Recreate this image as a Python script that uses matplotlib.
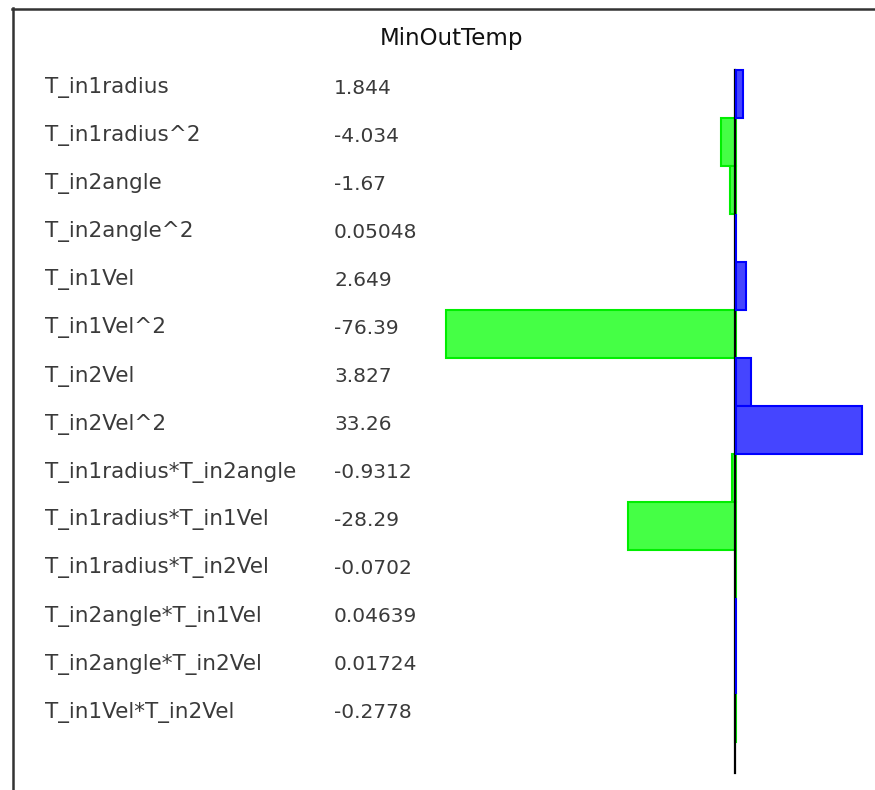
import numpy as np
import matplotlib
matplotlib.use("Agg")
import matplotlib.pyplot as plt
import matplotlib.transforms as mtransforms
from matplotlib.lines import Line2D

# coefficient table for MinOutTemp
terms = ["T_in1radius", "T_in1radius^2", "T_in2angle", "T_in2angle^2",
         "T_in1Vel", "T_in1Vel^2", "T_in2Vel", "T_in2Vel^2",
         "T_in1radius*T_in2angle", "T_in1radius*T_in1Vel",
         "T_in1radius*T_in2Vel", "T_in2angle*T_in1Vel",
         "T_in2angle*T_in2Vel", "T_in1Vel*T_in2Vel"]
value_labels = ["1.844", "-4.034", "-1.67", "0.05048", "2.649", "-76.39",
                "3.827", "33.26", "-0.9312", "-28.29", "-0.0702",
                "0.04639", "0.01724", "-0.2778"]
coefs = np.array([float(v) for v in value_labels])

W, H = 875, 790
fig = plt.figure(figsize=(W / 100, H / 100), dpi=100)
fig.patch.set_facecolor("white")
ax = fig.add_axes([0, 0, 1, 1])
ax.set_axis_off()

# scale: zero at x~736px, ~3.8 px per unit; rows 48px apart starting at 94px
px_per_unit = 3.8
x0 = 736
ax.set_xlim(-x0 / px_per_unit, (W - x0) / px_per_unit)
ax.set_ylim((H - 94) / 48, -94 / 48)

rows = np.arange(len(terms))
pos = coefs > 0
# negative bars sit under the zero line, positive ones on top of it
ax.barh(rows[~pos], coefs[~pos], height=1.0, color="#45ff45", edgecolor="#00ee00",
        linewidth=1.5, zorder=2)
ax.barh(rows[pos], coefs[pos], height=1.0, color="#4545ff", edgecolor="#0000ff",
        linewidth=1.5, zorder=4)

zero_tr = ax.transData + mtransforms.ScaledTranslation(-1.0 / 100, 0, fig.dpi_scale_trans)
ax.plot([0, 0], [-0.5, 14.15], color="black", linewidth=1.6, transform=zero_tr, zorder=3)

txt_color = "#3a3a3a"
lab_tr = mtransforms.blended_transform_factory(fig.transFigure, ax.transData)
lab_tr = lab_tr + mtransforms.ScaledTranslation(0, 6 / 100, fig.dpi_scale_trans)
for i, (t, v) in enumerate(zip(terms, value_labels)):
    ax.text(45 / W, i, t, transform=lab_tr, ha="left", va="center",
            fontsize=15.5, color=txt_color, family="DejaVu Sans")
    ax.text(334 / W, i, v, transform=lab_tr, ha="left", va="center",
            fontsize=14.5, color=txt_color, family="DejaVu Sans")

fig.text(452 / W, 1 - 38 / H, "MinOutTemp", ha="center", va="center",
         fontsize=16.5, color="#111111")

# panel frame (left and top edges visible)
fig.add_artist(Line2D([12.5 / W, 12.5 / W], [0, 1 - 8 / H], transform=fig.transFigure,
                      color="#333333", linewidth=1.8))
fig.add_artist(Line2D([12 / W, 1], [1 - 8.5 / H, 1 - 8.5 / H], transform=fig.transFigure,
                      color="#333333", linewidth=1.8))

fig.savefig("out.png", dpi=100, facecolor="white")
